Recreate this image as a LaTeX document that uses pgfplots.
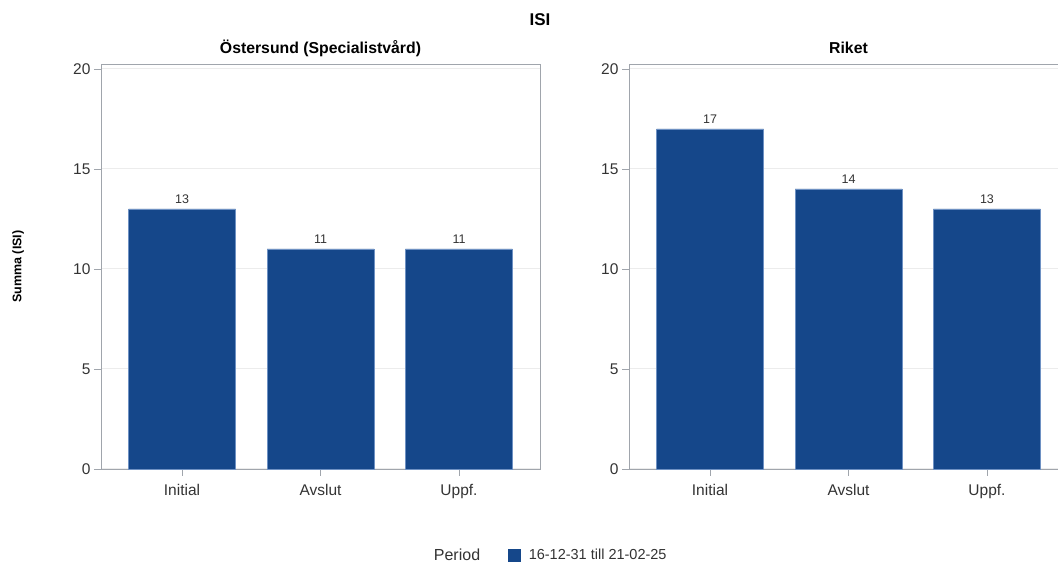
\documentclass[border=0pt]{standalone}
\usepackage{pgfplots}
\pgfplotsset{compat=1.18}
\usepackage{fontspec}
\setmainfont{Liberation Sans}

\definecolor{barblue}{RGB}{21,71,138}
\definecolor{bardraw}{RGB}{110,145,195}
\definecolor{axisgrey}{RGB}{160,165,172}
\definecolor{gridgrey}{RGB}{236,236,236}
\definecolor{txt}{RGB}{51,51,51}

\pgfplotsset{
  panel/.style={
    scale only axis, width=439pt, height=405pt,
    xmin=-0.585, xmax=2.585, ymin=0, ymax=20.25,
    xtick={0,1,2}, xticklabels={Initial,Avslut,Uppf.},
    ytick={0,5,10,15,20},
    ymajorgrids, major grid style={gridgrey, line width=1pt},
    axis line style={axisgrey, line width=0.9pt},
    tick style={axisgrey, line width=0.9pt},
    tick align=outside, major tick length=7pt,
    xtick pos=lower, ytick pos=left,
    ticklabel style={font=\fontsize{15.5}{18}\selectfont, text=txt},
    xticklabel style={yshift=-5pt},
    /pgf/number format/assume math mode=true,
    ybar, bar width=107pt,
    title style={font=\bfseries\fontsize{15.8}{18}\selectfont, at={(0.5,1.0247)}, anchor=center},
    nodes near coords,
    nodes near coords style={font=\fontsize{12.5}{14}\selectfont, text=txt, anchor=south, inner sep=0pt, yshift=5pt},
    clip=false,
  },
  barstyle/.style={fill=barblue, draw=bardraw, line width=0.6pt},
}

\begin{document}
\begin{tikzpicture}
% Östersund (Specialistvård)
\begin{axis}[panel, at={(101pt,93pt)}, anchor=south west,
  title={Östersund (Specialistvård)},
  ylabel={Summa (ISI)},
  ylabel style={font=\bfseries\fontsize{12.5}{14}\selectfont, at={(axis description cs:-0.189,0.5)}, anchor=center, rotate=0},
  legend style={at={(axis description cs:0.927,-0.2123)}, anchor=west, draw=none, fill=none,
    inner sep=0pt, nodes={inner sep=0pt, font=\fontsize{14.5}{17}\selectfont, text=txt}},
  legend image code/.code={\fill[barblue] (0pt,-6pt) rectangle (12pt,6pt);},
]
\addplot[barstyle] coordinates {(0,13) (1,11) (2,11)};
\addlegendentry{\hspace{8pt}16-12-31 till 21-02-25}
\node[font=\bfseries\fontsize{17}{20}\selectfont] at (axis description cs:1.0,1.109) {ISI};
\node[font=\fontsize{16}{19}\selectfont, text=txt, anchor=base, inner sep=0pt] at (axis description cs:0.811,-0.2247) {Period};
\end{axis}

% Riket
\begin{axis}[panel, at={(629pt,93pt)}, anchor=south west,
  title={Riket},
]
\addplot[barstyle] coordinates {(0,17) (1,14) (2,13)};
\end{axis}

\pgfresetboundingbox
\path[use as bounding box] (0,0) rectangle (1058pt,562pt);
\end{tikzpicture}
\end{document}
